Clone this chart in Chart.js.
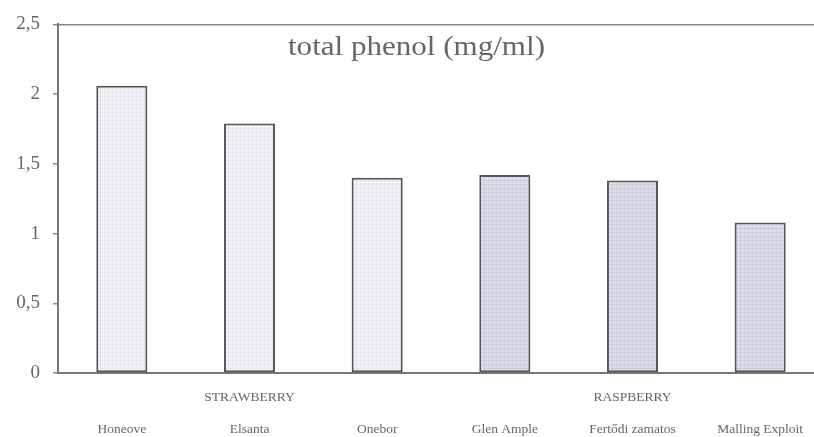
<!DOCTYPE html>
<html>
<head>
<meta charset="utf-8">
<script src="https://cdn.jsdelivr.net/npm/chart.js@4/dist/chart.umd.min.js"></script>
<style>
  html, body { margin: 0; padding: 0; background: #fff; overflow: hidden; }
  #wrap { width: 826px; height: 437px; }
</style>
</head>
<body>
<div id="wrap"><canvas id="c" width="826" height="437"></canvas></div>
<script>
// ---- data ----
const categories = ['Honeove', 'Elsanta', 'Onebor', 'Glen Ample', 'Fertődi zamatos', 'Malling Exploit'];
const groupLabels = ['', 'STRAWBERRY', '', '', 'RASPBERRY', ''];
const fruit = ['strawberry', 'strawberry', 'strawberry', 'raspberry', 'raspberry', 'raspberry'];
const phenol = [2.06, 1.79, 1.40, 1.42, 1.38, 1.08];
const yTicks = [0, 0.5, 1, 1.5, 2, 2.5];
const yTickLabels = ['0', '0,5', '1', '1,5', '2', '2,5'];
const chartTitle = 'total phenol (mg/ml)';

// ---- styling helpers ----
function makePattern(base, line) {
  const p = document.createElement('canvas');
  p.width = 4; p.height = 4;
  const g = p.getContext('2d');
  g.fillStyle = base; g.fillRect(0, 0, 4, 4);
  g.fillStyle = line; g.fillRect(0, 0, 4, 1); g.fillRect(0, 0, 1, 4);
  return g.createPattern(p, 'repeat');
}
const ctx0 = document.getElementById('c').getContext('2d');
const fills = {
  strawberry: makePattern('#f4f4f7', '#e4e4eb'),
  raspberry: makePattern('#dedfea', '#cbccdb')
};

const titlePlugin = {
  id: 'innerTitle',
  afterDraw(chart) {
    const a = chart.chartArea;
    const c = chart.ctx;
    const cx = a.left + 0.468 * (a.right - a.left);
    c.save();
    c.translate(cx, a.top + 31);
    c.scale(1.15, 1);
    c.font = '27px "Liberation Serif", "Times New Roman", serif';
    c.fillStyle = '#666';
    c.textAlign = 'center';
    c.textBaseline = 'alphabetic';
    c.fillText(chartTitle, 0, 0);
    c.restore();
  }
};

new Chart(ctx0, {
  type: 'bar',
  data: {
    labels: categories.map((c, i) => [groupLabels[i], '', c]),
    datasets: [{
      data: phenol,
      backgroundColor: fruit.map(f => fills[f]),
      borderColor: '#555',
      borderWidth: 2,
      borderSkipped: false,
      categoryPercentage: 1.0,
      barPercentage: 0.4
    }]
  },
  options: {
    responsive: false,
    animation: false,
    layout: { padding: { top: 21, right: 2, left: 0, bottom: 0 } },
    plugins: { legend: { display: false }, tooltip: { enabled: false }, title: { display: false } },
    scales: {
      x: {
        grid: { display: false },
        border: { display: true, color: '#777', width: 2 },
        ticks: {
          color: '#666',
          font: { family: '"Liberation Serif", "Times New Roman", serif', size: 13.5, lineHeight: 1.2 },
          padding: 8,
          maxRotation: 0,
          autoSkip: false
        },
        afterFit(s) { s.height = 64; }
      },
      y: {
        min: 0, max: 2.5,
        afterBuildTicks(s) { s.ticks = yTicks.map(v => ({ value: v })); },
        grid: {
          drawOnChartArea: true,
          color: c => (c.tick && c.tick.value === 2.5 ? '#888' : 'rgba(0,0,0,0)'),
          lineWidth: 1.5,
          tickColor: '#888',
          tickLength: 5
        },
        border: { display: true, color: '#777', width: 2 },
        ticks: {
          color: '#666',
          font: { family: '"Liberation Serif", "Times New Roman", serif', size: 19 },
          padding: 13,
          callback: (v) => { const i = yTicks.indexOf(v); return i >= 0 ? yTickLabels[i] : ''; }
        },
        afterFit(s) { s.width = 58; }
      }
    }
  },
  plugins: [titlePlugin]
});
</script>
</body>
</html>
